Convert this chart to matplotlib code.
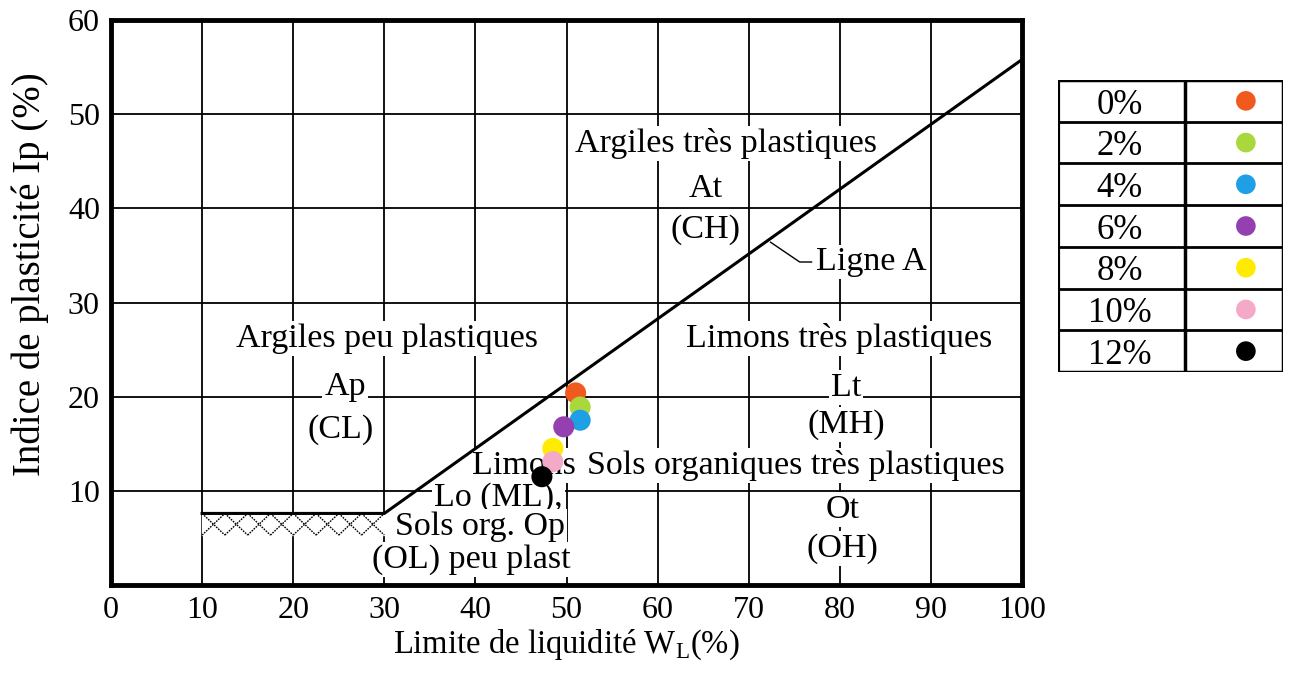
import matplotlib
matplotlib.use("Agg")
import matplotlib.pyplot as plt
import numpy as np

plt.rcParams["font.family"] = ["Liberation Serif", "DejaVu Serif"]
plt.rcParams["mathtext.fontset"] = "custom"
plt.rcParams["mathtext.rm"] = "Liberation Serif"

# lime contents and measured (WL, Ip) points
lime_labels = ["0%", "2%", "4%", "6%", "8%", "10%", "12%"]
lime_colors = ["#F05A1E", "#A8D83C", "#1E9FE6", "#9440B0", "#FFEB00", "#F5A9C9", "#000000"]
wl_values = [51.0, 51.5, 51.5, 49.7, 48.5, 48.5, 47.3]
ip_values = [20.4, 18.9, 17.5, 16.8, 14.5, 13.1, 11.5]

# Casagrande A-line as drawn
a_line_wl = [10, 30, 100]
a_line_ip = [7.6, 7.6, 55.8]
hatch_wl = [10, 30]
hatch_ip = [5.3, 7.6]
n_cross = 8

x_ticks = list(range(0, 101, 10))
y_ticks = list(range(10, 61, 10))

# zone labels: (text, WL, Ip)
zone_labels = [
    ("Argiles très plastiques", 67.5, 46.9),
    ("At", 65.3, 42.1),
    ("(CH)", 65.3, 37.7),
    ("Argiles peu plastiques", 30.3, 26.2),
    ("Ap", 25.7, 21.0),
    ("(CL)", 25.2, 16.5),
    ("Limons très plastiques", 79.9, 26.2),
    ("Lt", 80.7, 21.0),
    ("(MH)", 80.7, 17.0),
    ("Sols organiques très plastiques", 75.2, 12.7),
    ("Ot", 80.3, 8.0),
    ("(OH)", 80.3, 3.9),
    ("Limons", 45.3, 12.7),
    ("Lo (ML),", 42.5, 9.3),
    ("Sols org. Op", 40.5, 6.2),
    ("(OL) peu plast", 39.5, 2.7),
]

fig = plt.figure(figsize=(12.92, 6.8), dpi=100)
ax = fig.add_axes([111 / 1292, 1 - 585 / 680, 911 / 1292, 565 / 680])
ax.set_xlim(0, 100)
ax.set_ylim(0, 60)

for x in x_ticks[1:-1]:
    ax.axvline(x, color="black", linewidth=1.3, zorder=0)
for y in y_ticks[:-1]:
    ax.axhline(y, color="black", linewidth=1.3, zorder=0)

for text, x, y in zone_labels:
    ax.text(x, y, text, fontsize=24.5, ha="center", va="center", zorder=3,
            bbox=dict(facecolor="white", edgecolor="none", pad=1.5))

# hatched CL-ML band under the horizontal part of the A-line
ax.fill_between(hatch_wl, hatch_ip[0], hatch_ip[1], color="white", zorder=3)
edges = np.linspace(hatch_wl[0], hatch_wl[1], n_cross + 1)
for x0, x1 in zip(edges[:-1], edges[1:]):
    ax.plot([x0, x1], hatch_ip, color="black", linewidth=1.0,
            linestyle=(0, (1.2, 0.8)), zorder=3.5)
    ax.plot([x0, x1], hatch_ip[::-1], color="black", linewidth=1.0,
            linestyle=(0, (1.2, 0.8)), zorder=3.5)
ax.plot(a_line_wl, a_line_ip, color="black", linewidth=2.2, zorder=4)

ax.text(77.4, 34.3, "Ligne A", fontsize=24.5, ha="left", va="center", zorder=3,
        bbox=dict(facecolor="white", edgecolor="none", pad=1.0))
ax.plot([72.4, 75.6, 76.9], [36.4, 34.3, 34.3], color="black", linewidth=1.0, zorder=4)

ax.scatter(wl_values, ip_values, s=230, c=lime_colors, edgecolors="none", zorder=5)

ax.set_xticks(x_ticks)
ax.set_yticks(y_ticks)
ax.tick_params(length=0, labelsize=23, pad=8)
for spine in ax.spines.values():
    spine.set_linewidth(3.5)
ax.set_xlabel("Limite de liquidité W$_\\mathrm{L}$(%)", fontsize=23.5, labelpad=2)
ax.set_ylabel("Indice de plasticité Ip (%)", fontsize=28)
ax.yaxis.set_label_coords(-0.068, 0.55)

# legend table
lg = fig.add_axes([1058 / 1292, 1 - 372 / 680, 225 / 1292, 292 / 680])
n = len(lime_labels)
lg.set_xlim(0, 2)
lg.set_ylim(n, 0)
lg.axis("off")
for i in range(n + 1):
    lg.axhline(i, color="black", linewidth=2 if 0 < i < n else 2.5)
lg.axvline(0, color="black", linewidth=3)
lg.axvline(2, color="black", linewidth=2.5)
lg.plot([1.13, 1.13], [0, n], color="black", linewidth=2.5)
for i, (lab, col) in enumerate(zip(lime_labels, lime_colors)):
    lg.text(0.55, i + 0.6, lab, fontsize=25, ha="center", va="center")
    lg.scatter([1.67], [i + 0.5], s=200, color=col, edgecolors="none")

fig.savefig("out.png", dpi=100)
